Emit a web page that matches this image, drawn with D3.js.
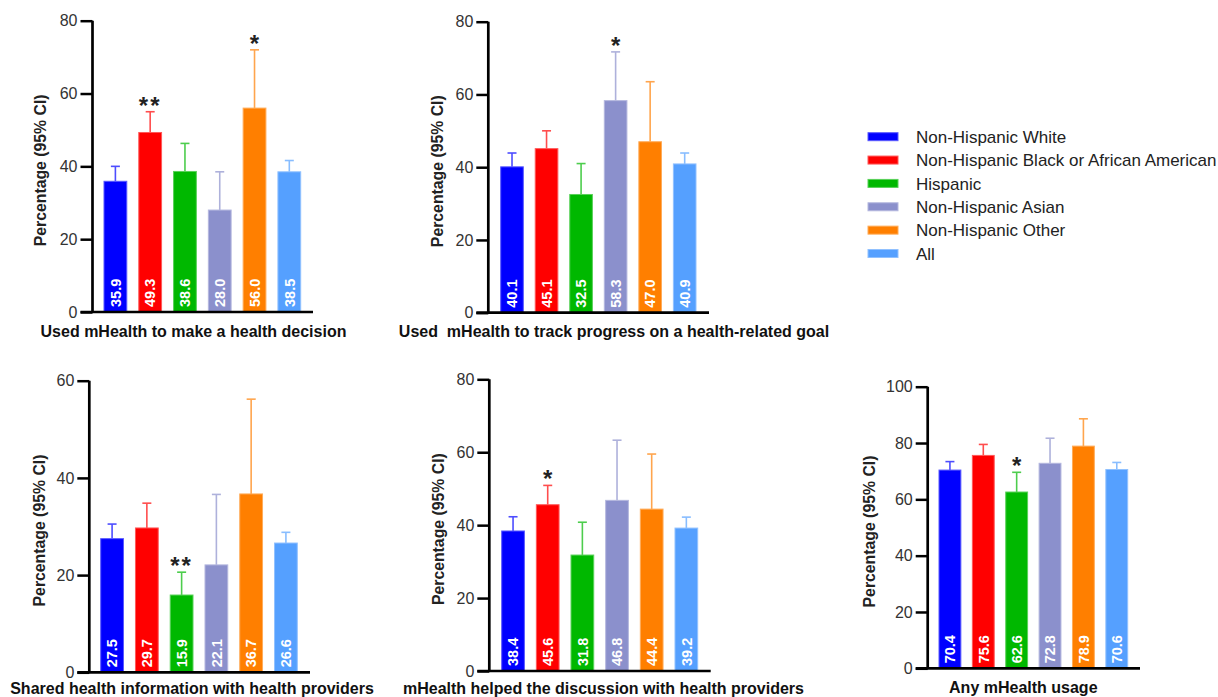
<!DOCTYPE html>
<html>
<head>
<meta charset="utf-8">
<script src="https://cdn.jsdelivr.net/npm/d3@7/dist/d3.min.js"></script>
<style>
  html, body { margin: 0; padding: 0; background: #fff; }
  svg { display: block; font-family: "Liberation Sans", Arial, sans-serif; }
</style>
</head>
<body>
<svg id="chart" width="1218" height="697"></svg>
<script>
// ---------------- DATA ----------------
const groups = ["Non-Hispanic White", "Non-Hispanic Black or African American", "Hispanic", "Non-Hispanic Asian", "Non-Hispanic Other", "All"];
const groupColors = ["#0000ff", "#ff0000", "#00b800", "#8b90cc", "#ff7f00", "#55a0ff"];

const panelTitles = [
  "Used mHealth to make a health decision",
  "Used  mHealth to track progress on a health-related goal",
  "Shared health information with health providers",
  "mHealth helped the discussion with health providers",
  "Any mHealth usage"
];

const decisionValues = [35.9, 49.3, 38.6, 28.0, 56.0, 38.5];
const decisionUpper  = [40.0, 55.0, 46.3, 38.5, 72.0, 41.6];
const decisionSig    = ["", "**", "", "", "*", ""];

const trackValues = [40.1, 45.1, 32.5, 58.3, 47.0, 40.9];
const trackUpper  = [43.9, 50.0, 41.0, 71.7, 63.5, 43.9];
const trackSig    = ["", "", "", "*", "", ""];

const sharedValues = [27.5, 29.7, 15.9, 22.1, 36.7, 26.6];
const sharedUpper  = [30.5, 34.8, 20.6, 36.6, 56.2, 28.8];
const sharedSig    = ["", "", "**", "", "", ""];

const discussValues = [38.4, 45.6, 31.8, 46.8, 44.4, 39.2];
const discussUpper  = [42.3, 50.9, 40.8, 63.3, 59.5, 42.2];
const discussSig    = ["", "*", "", "", "", ""];

const anyValues = [70.4, 75.6, 62.6, 72.8, 78.9, 70.6];
const anyUpper  = [73.4, 79.5, 69.6, 81.7, 88.6, 73.1];
const anySig    = ["", "", "*", "", "", ""];

const ticks80  = [0, 20, 40, 60, 80];
const ticks60  = [0, 20, 40, 60];
const ticks100 = [0, 20, 40, 60, 80, 100];

const yLabel = "Percentage (95% CI)";

// ---------------- LAYOUT ----------------
const panels = [
  { title: panelTitles[0], values: decisionValues, upper: decisionUpper, sig: decisionSig, ticks: ticks80,
    axisX: 92.5, barL: 104, barR: 300.7, xEnd: 313, yTop: 20.7, y0: 312, labelX: 40, titleX: 193.5, titleY: 337 },
  { title: panelTitles[1], values: trackValues, upper: trackUpper, sig: trackSig, ticks: ticks80,
    axisX: 488.3, barL: 500.7, barR: 696, xEnd: 709, yTop: 21.7, y0: 312.7, labelX: 437, titleX: 614, titleY: 337 },
  { title: panelTitles[2], values: sharedValues, upper: sharedUpper, sig: sharedSig, ticks: ticks60,
    axisX: 89.3, barL: 100.7, barR: 297.3, xEnd: 310, yTop: 380.7, y0: 672.3, labelX: 39.5, titleX: 192, titleY: 694 },
  { title: panelTitles[3], values: discussValues, upper: discussUpper, sig: discussSig, ticks: ticks80,
    axisX: 489.3, barL: 501.7, barR: 697.7, xEnd: 710.7, yTop: 379.3, y0: 671, labelX: 438.5, titleX: 603.5, titleY: 694 },
  { title: panelTitles[4], values: anyValues, upper: anyUpper, sig: anySig, ticks: ticks100,
    axisX: 927.7, barL: 939, barR: 1127.7, xEnd: 1140, yTop: 386.7, y0: 668.3, labelX: 869.5, titleX: 1023.3, titleY: 693 }
];

const svg = d3.select("#chart");

function lighten(c, k) {
  return d3.interpolateRgb(c, "#ffffff")(k);
}

panels.forEach(p => {
  const g = svg.append("g");
  const yMax = p.ticks[p.ticks.length - 1];
  const y = d3.scaleLinear().domain([0, yMax]).range([p.y0, p.yTop]);
  const x = d3.scaleBand().domain(groups).range([p.barL, p.barR]).paddingInner(0.345).paddingOuter(0);
  const color = d3.scaleOrdinal().domain(groups).range(groupColors);

  const rows = groups.map((gname, i) => ({ g: gname, v: p.values[i], u: p.upper[i], s: p.sig[i] }));

  // error bars (upper only)
  const capW = 9;
  g.selectAll(".err").data(rows).enter().append("line")
    .attr("x1", d => x(d.g) + x.bandwidth() / 2)
    .attr("x2", d => x(d.g) + x.bandwidth() / 2)
    .attr("y1", d => y(d.v))
    .attr("y2", d => y(d.u))
    .attr("stroke", d => lighten(color(d.g), 0.3))
    .attr("stroke-width", 1.6);
  g.selectAll(".cap").data(rows).enter().append("line")
    .attr("x1", d => x(d.g) + x.bandwidth() / 2 - capW / 2)
    .attr("x2", d => x(d.g) + x.bandwidth() / 2 + capW / 2)
    .attr("y1", d => y(d.u))
    .attr("y2", d => y(d.u))
    .attr("stroke", d => lighten(color(d.g), 0.3))
    .attr("stroke-width", 1.6);

  // bars
  g.selectAll(".bar").data(rows).enter().append("rect")
    .attr("x", d => x(d.g))
    .attr("width", x.bandwidth())
    .attr("y", d => y(d.v))
    .attr("height", d => y(0) - y(d.v))
    .attr("fill", d => color(d.g))
    .attr("stroke", d => lighten(color(d.g), 0.35))
    .attr("stroke-width", 1);

  // value labels
  g.selectAll(".val").data(rows).enter().append("text")
    .attr("transform", d => `translate(${x(d.g) + x.bandwidth() / 2},${p.y0 - 5}) rotate(-90)`)
    .attr("dy", "0.36em")
    .attr("fill", "#fff")
    .attr("font-weight", "bold")
    .attr("font-size", "14.5px")
    .attr("text-anchor", "start")
    .text(d => d.v.toFixed(1));

  // significance stars
  g.selectAll(".sig").data(rows.filter(d => d.s)).enter().append("text")
    .attr("x", d => x(d.g) + x.bandwidth() / 2)
    .attr("y", d => y(d.u) + 2)
    .attr("text-anchor", "middle")
    .attr("font-size", "24px")
    .attr("font-weight", "bold")
    .attr("fill", "#222")
    .attr("letter-spacing", d => d.s.length > 1 ? "2px" : "0px")
    .text(d => d.s);

  // y axis
  const yAxis = d3.axisLeft(y).tickValues(p.ticks).tickSize(12).tickPadding(3).tickFormat(d3.format("d"));
  const ag = g.append("g").attr("transform", `translate(${p.axisX},0)`).call(yAxis);
  ag.select(".domain").attr("stroke", "#000").attr("stroke-width", 2.7)
    .attr("d", `M0,${p.yTop}V${p.y0}`);
  ag.selectAll(".tick line").attr("stroke", "#000").attr("stroke-width", 2.5);
  ag.selectAll(".tick text").attr("font-size", "16px").attr("fill", "#333")
    .attr("font-family", "'Liberation Sans', Arial, sans-serif");

  // x axis baseline
  const xAxis = d3.axisBottom(x).tickSize(0).tickFormat("");
  const xg = g.append("g").attr("transform", `translate(0,${p.y0})`).call(xAxis);
  xg.select(".domain").attr("stroke", "#000").attr("stroke-width", 2.7)
    .attr("d", `M${p.axisX - 12},0H${p.xEnd}`);
  xg.selectAll(".tick").remove();

  // y label
  g.append("text")
    .attr("transform", `translate(${p.labelX},${(p.yTop + p.y0) / 2 + 4}) rotate(-90)`)
    .attr("text-anchor", "middle")
    .attr("dy", "0.36em")
    .attr("font-size", "15.8px")
    .attr("font-weight", "bold")
    .attr("fill", "#222")
    .text(yLabel);

  // panel title
  g.append("text")
    .attr("x", p.titleX)
    .attr("y", p.titleY)
    .attr("text-anchor", "middle")
    .attr("font-size", "16px")
    .attr("font-weight", "bold")
    .attr("fill", "#111")
    .style("white-space", "pre")
    .text(p.title);
});

// legend
const legend = svg.append("g");
const legendY = d3.scalePoint().domain(groups).range([136.7, 253.5]);
groups.forEach((gname, i) => {
  legend.append("rect")
    .attr("x", 868).attr("y", legendY(gname) - 4)
    .attr("width", 30).attr("height", 8)
    .attr("fill", groupColors[i])
    .attr("stroke", lighten(groupColors[i], 0.35))
    .attr("stroke-width", 1);
  legend.append("text")
    .attr("x", 916).attr("y", legendY(gname))
    .attr("dy", "0.36em")
    .attr("font-size", "17px")
    .attr("fill", "#222")
    .text(gname);
});
</script>
</body>
</html>
